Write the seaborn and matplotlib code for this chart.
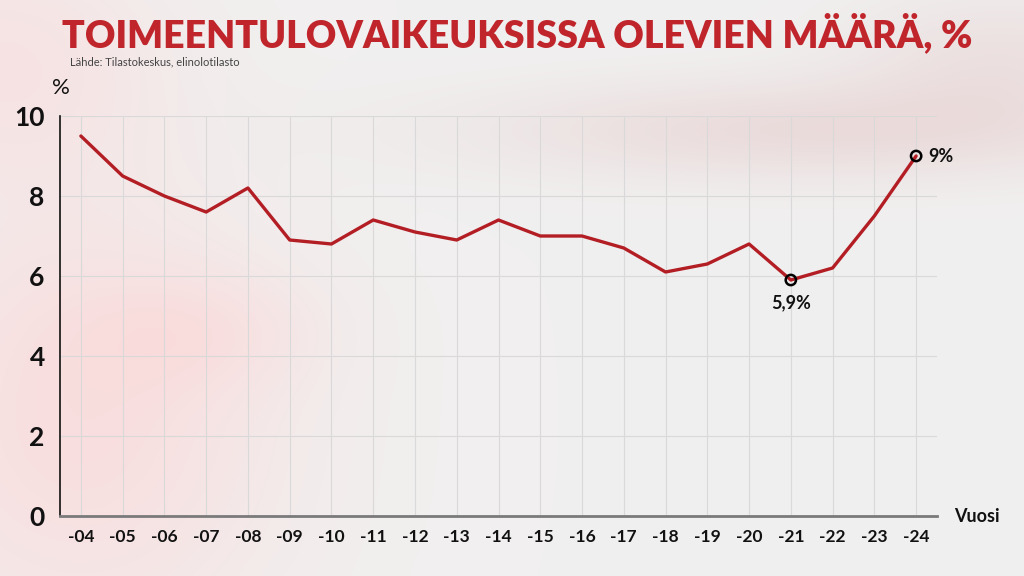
import numpy as np
import pandas as pd
import matplotlib
matplotlib.use("Agg")
import matplotlib.pyplot as plt
import seaborn as sns

# Data
years = ["-04", "-05", "-06", "-07", "-08", "-09", "-10", "-11", "-12", "-13", "-14",
         "-15", "-16", "-17", "-18", "-19", "-20", "-21", "-22", "-23", "-24"]
share = [9.5, 8.5, 8.0, 7.6, 8.2, 6.9, 6.8, 7.4, 7.1, 6.9, 7.4,
         7.0, 7.0, 6.7, 6.1, 6.3, 6.8, 5.9, 6.2, 7.5, 9.0]
y_ticks = [0, 2, 4, 6, 8, 10]
highlight_years = ["-21", "-24"]
highlight_labels = ["5,9%", "9%"]

df = pd.DataFrame({"year": years, "share": share})
df["pos"] = range(len(df))

sns.set_theme(style="white")
plt.rcParams["font.family"] = ["Lato", "DejaVu Sans"]

red = "#b31e24"
fig = plt.figure(figsize=(10.24, 5.76), dpi=100)

# soft background with blurred pink shapes
bg = fig.add_axes([0, 0, 1, 1])
h, w = 576, 1024
yy, xx = np.mgrid[0:h, 0:w]
base = np.ones((h, w, 3)) * np.array([0.945, 0.94, 0.94])
pink = np.array([0.98, 0.86, 0.86])
def blob(cx, cy, sx, sy, a):
    return a * np.exp(-(((xx - cx) / sx) ** 2 + ((yy - cy) / sy) ** 2))
m = blob(80, 420, 200, 220, 0.85) + blob(0, 60, 160, 120, 0.6) + blob(200, 330, 120, 60, 0.4)
m2 = blob(800, 130, 320, 50, 0.55) + blob(1000, 60, 150, 70, 0.4)
m = np.clip(m, 0, 1)[..., None]
m2 = np.clip(m2, 0, 1)[..., None]
img = base * (1 - m) + pink * m
img = img * (1 - m2) + np.array([0.90, 0.80, 0.80]) * m2
bg.imshow(img, aspect="auto", extent=[0, 1, 0, 1])
bg.axis("off")

ax = fig.add_axes([60 / 1024, 60 / 576, 877 / 1024, 400 / 576])
ax.set_facecolor("none")

sns.lineplot(data=df, x="pos", y="share", color=red, linewidth=2.4, ax=ax)
hl = df[df["year"].isin(highlight_years)]
sns.scatterplot(data=hl, x="pos", y="share", s=55, facecolor="none",
                edgecolor="black", linewidth=1.8, zorder=5, ax=ax)
for (_, row), lab in zip(hl.iterrows(), highlight_labels):
    if row["share"] < 7:
        ax.annotate(lab, (row["pos"], row["share"]), xytext=(0, -10),
                    textcoords="offset points", ha="center", va="top",
                    fontsize=13, fontweight="bold", color="#111111")
    else:
        ax.annotate(lab, (row["pos"], row["share"]), xytext=(9, 0),
                    textcoords="offset points", ha="left", va="center",
                    fontsize=13, fontweight="bold", color="#111111")

ax.set_xlim(-0.5, len(years) - 0.5)
ax.set_ylim(0, 10)
ax.set_xticks(df["pos"])
ax.set_xticklabels(years, fontsize=12.5, fontweight="bold", color="#111111")
ax.set_yticks(y_ticks)
ax.set_yticklabels([str(t) for t in y_ticks], fontsize=19, fontweight="bold", color="#111111")
ax.tick_params(axis="x", length=0, pad=9)
ax.tick_params(axis="y", length=0, pad=11)
ax.grid(True, color="#d9d9d9", linewidth=0.8)
ax.set_xlabel("")
ax.set_ylabel("")
for s in ["top", "right"]:
    ax.spines[s].set_visible(False)
ax.spines["left"].set_color("#111111")
ax.spines["left"].set_linewidth(1.2)
ax.spines["bottom"].set_color("#7a7a7a")
ax.spines["bottom"].set_linewidth(2)

fig.text(62 / 1024, 1 - 33 / 576, "TOIMEENTULOVAIKEUKSISSA OLEVIEN MÄÄRÄ, %",
         fontsize=27, fontweight="heavy", color="#c0252b", va="center", ha="left")
fig.text(70 / 1024, 1 - 62 / 576, "Lähde: Tilastokeskus, elinolotilasto",
         fontsize=8, color="#444444", va="center", ha="left")
fig.text(52 / 1024, 1 - 88 / 576, "%", fontsize=16, color="#111111", va="center", ha="left")
fig.text(977 / 1024, 1 - 517 / 576, "Vuosi", fontsize=13, fontweight="bold",
         color="#111111", va="center", ha="center")

fig.savefig("out.png", dpi=100)
